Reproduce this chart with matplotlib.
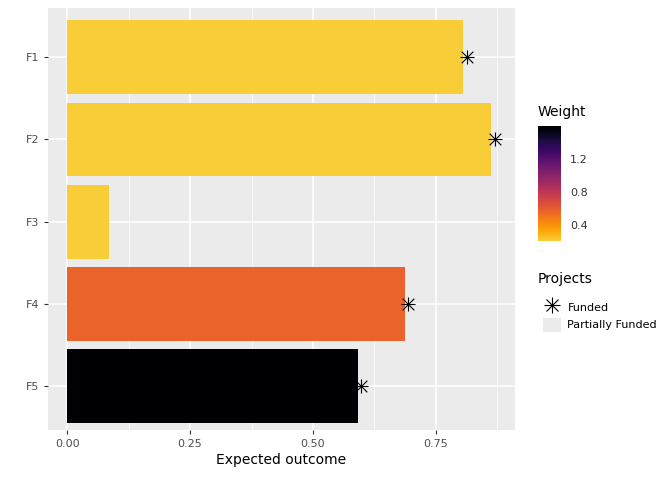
import numpy as np
import matplotlib.pyplot as plt
from matplotlib.lines import Line2D
from matplotlib.patches import Patch
import matplotlib as mpl

projects = ["F1", "F2", "F3", "F4", "F5"]
outcome = [0.805, 0.862, 0.085, 0.687, 0.591]
weight = [0.21, 0.21, 0.21, 0.57, 1.60]
funded_x = [0.813, 0.870, 0.693, 0.598]
funded_proj = ["F1", "F2", "F4", "F5"]

W, H = 672, 480
fig = plt.figure(figsize=(W / 100, H / 100), dpi=100)
ax = fig.add_axes([48 / W, 1 - 430 / H, (515 - 48) / W, (430 - 8) / H])
ax.set_facecolor("#EBEBEB")

cmap = mpl.colors.ListedColormap(plt.get_cmap("inferno")(np.linspace(0.88, 0, 256)))
norm = mpl.colors.Normalize(vmin=0.206, vmax=1.6)
ypos = {p: i + 1 for i, p in enumerate(projects)}
ax.barh([ypos[p] for p in projects], outcome, height=0.9,
        color=[cmap(norm(w)) for w in weight], zorder=3)
fy = [ypos[p] for p in funded_proj]
ax.scatter(funded_x, fy, marker="+", s=110, color="black", linewidths=0.8, zorder=4)
ax.scatter(funded_x, fy, marker="x", s=70, color="black", linewidths=0.8, zorder=4)

ax.set_xlim(-0.039, 0.911)
ax.set_ylim(5.535, 0.4)
ax.set_yticks(range(1, 6))
ax.set_yticklabels(projects)
ax.set_xticks([0, 0.25, 0.5, 0.75])
ax.set_xticklabels(["0.00", "0.25", "0.50", "0.75"])
ax.set_xticks([0.125, 0.375, 0.625, 0.875], minor=True)
ax.grid(True, which="major", color="white", lw=1.1, zorder=0)
ax.grid(True, which="minor", axis="x", color="white", lw=0.5, zorder=0)
for s in ax.spines.values():
    s.set_visible(False)
ax.tick_params(which="major", colors="#4D4D4D", labelsize=8, length=3, color="#333333")
ax.tick_params(which="minor", length=0)
ax.set_xlabel("Expected outcome", fontsize=10, labelpad=3)

# colorbar
cax = fig.add_axes([538 / W, 1 - 241 / H, 23 / W, 115 / H])
cb = mpl.colorbar.ColorbarBase(cax, cmap=cmap, norm=norm, ticks=[0.4, 0.8, 1.2])
cb.outline.set_visible(False)
cax.tick_params(labelsize=8, length=3, color="white", colors="#333333")
cax.tick_params(axis="y", color="white")
fig.text(538 / W, 1 - 112 / H, "Weight", fontsize=10, va="center")

# projects legend
fig.text(538 / W, 1 - 279 / H, "Projects", fontsize=10, va="center")
star_plus = Line2D([], [], marker="+", color="black", ls="none", markersize=11, mew=0.8)
star_x = Line2D([], [], marker="x", color="black", ls="none", markersize=8, mew=0.8)
handles = [(star_plus, star_x), Patch(facecolor="#EBEBEB", edgecolor="none")]
leg = fig.legend(handles, ["Funded", "Partially Funded"], loc="upper left",
                 bbox_to_anchor=(533 / W, 1 - 290 / H), frameon=False, fontsize=8,
                 handlelength=1.6, handleheight=1.6, handletextpad=0.6, labelspacing=0.3)

fig.savefig("out.png", dpi=100)
